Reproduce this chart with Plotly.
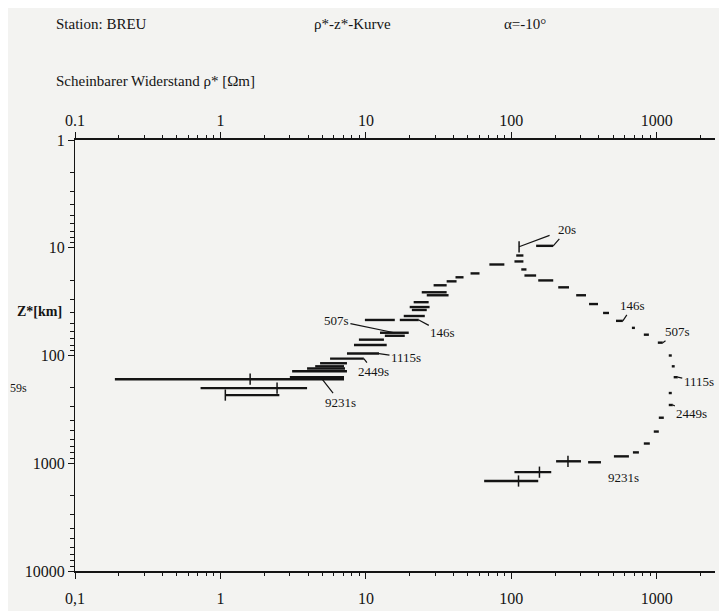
import math
import plotly.graph_objects as go

# ---------------- data ----------------
# right branch: apparent resistivity range [Ohm m] and depth z* [km]
right_lo = [148, 108, 105, 117, 123, 153, 210, 279, 342, 427, 524, 674, 814, 1016,
            1208, 1267, 1306, 1208, 1208, 1032, 953, 814, 685, 507, 337, 203, 105, 65]
right_hi = [194, 121, 121, 127, 148, 194, 249, 326, 394, 469, 584, 707, 882, 1099,
            1267, 1327, 1393, 1267, 1288, 1117, 1032, 895, 753, 643, 413, 301, 188, 153]
right_z = [9.6, 11.8, 13.4, 15.9, 18.1, 20.1, 23.3, 27.6, 33.3, 40.3, 47.7, 55.4, 64.1, 76.0,
           100, 126, 159, 223, 288, 378, 508, 656, 793, 863, 979, 959, 1210, 1462]

# left branch
left_lo = [70.6, 52.4, 41.3, 35.9, 29.2, 24.2, 26.2, 21.3, 20.0, 20.7, 18.2, 17.1, 9.84,
           12.5, 13.5, 8.95, 8.28, 7.41, 5.67, 4.84, 4.48, 3.94, 3.11, 3.0, 0.188, 0.73, 1.08]
left_hi = [89.5, 60.4, 46.9, 42.0, 35.9, 35.9, 37.0, 27.0, 27.4, 26.2, 25.4, 23.1, 15.8,
           19.7, 18.5, 13.3, 13.9, 12.3, 9.68, 7.41, 7.07, 7.18, 7.41, 7.07, 7.07, 3.94, 2.54]
left_z = [14.3, 17.3, 18.8, 20.5, 22.3, 25.9, 27.6, 32.0, 35.5, 37.8, 43.0, 46.8, 46.8,
          61.5, 65.6, 71.3, 80.0, 95.9, 107, 118, 126, 132, 140, 159, 166, 201, 233]

# marked values (vertical ticks on the bars)
mark_rho = [113, 1.6, 2.45, 1.08, 245, 156, 112]
mark_z = [9.8, 166, 201, 233, 959, 1210, 1462]

# period labels: text, rho, z, offset x, offset y
period_labels = [
    ("20s", 194, 9.6, 14, -16),
    ("", 113, 9.8, 32, -12),
    ("146s", 584, 47.7, 10, -15),
    ("507s", 1099, 76.0, 15, -11),
    ("1115s", 1393, 159, 21, 4),
    ("2449s", 1288, 288, 19, 8),
    ("9231s", 413, 979, 23, 15),
    ("146s", 23.1, 46.8, 24, 13),
    ("507s", 15.7, 61.5, -58, -12),
    ("1115s", 12.3, 95.9, 27, 4),
    ("2449s", 9.68, 107, 10, 13),
    ("9231s", 5.0, 166, 18, 23),
]

x_ticks = [0.1, 1, 10, 100, 1000]
x_text_bottom = ["0,1", "1", "10", "100", "1000"]
x_text_top = ["0.1", "1", "10", "100", "1000"]
y_ticks = [1, 10, 100, 1000, 10000]
y_text = ["1", "10", "100", "1000", "10000"]

INK = "#141414"
BG = "#f3f3f1"
SERIF = "Liberation Serif"


def segments(lo, hi, z):
    xs, ys = [], []
    for a, b, c in zip(lo, hi, z):
        xs += [a, b, None]
        ys += [c, c, None]
    return xs, ys


fig = go.Figure()
for lo, hi, z in ((right_lo, right_hi, right_z), (left_lo, left_hi, left_z)):
    xs, ys = segments(lo, hi, z)
    fig.add_trace(go.Scatter(x=xs, y=ys, mode="lines", line=dict(color=INK, width=2.4),
                             hoverinfo="skip", showlegend=False))

fig.add_trace(go.Scatter(x=mark_rho, y=mark_z, mode="markers",
                         marker=dict(symbol="line-ns", size=8, line=dict(color=INK, width=1.5)),
                         hoverinfo="skip", showlegend=False))
# invisible trace so the top axis is drawn
fig.add_trace(go.Scatter(x=[1], y=[1], xaxis="x2", mode="markers",
                         marker=dict(opacity=0), hoverinfo="skip", showlegend=False))

minor_x = [m * 10 ** e for e in range(-1, 4) for m in range(2, 10) if m * 10 ** e < 2500]
minor_y = [m * 10 ** e for e in range(0, 4) for m in range(2, 10)]

common_x = dict(type="log", range=[-1, 3.4], tickvals=x_ticks, ticks="outside",
                ticklen=6, tickwidth=1.4, tickcolor=INK, showline=True, linewidth=2,
                linecolor=INK, showgrid=False, zeroline=False,
                minor=dict(tickvals=minor_x, ticks="outside", ticklen=3, tickwidth=1,
                           tickcolor=INK, showgrid=False),
                tickfont=dict(family=SERIF, size=16, color=INK))

fig.update_layout(
    width=727, height=611,
    margin=dict(l=67, r=20, t=132, b=43),
    paper_bgcolor=BG, plot_bgcolor=BG,
    xaxis=dict(**common_x, ticktext=x_text_bottom, ticklabelstandoff=6),
    xaxis2=dict(**common_x, ticktext=x_text_top, overlaying="x", side="top", anchor="y"),
    yaxis=dict(type="log", range=[4, 0], tickvals=y_ticks, ticktext=y_text,
               ticks="outside", ticklen=6, tickwidth=1.4, tickcolor=INK,
               showline=True, linewidth=1.2, linecolor=INK, showgrid=False, zeroline=False,
               minor=dict(tickvals=minor_y, ticks="outside", ticklen=4, tickwidth=1,
                          tickcolor=INK, showgrid=False),
               tickfont=dict(family=SERIF, size=16, color=INK)),
)

annots = []
for text, rho, z, ax, ay in period_labels:
    annots.append(dict(x=math.log10(rho), y=math.log10(z), xref="x", yref="y",
                       text=text, showarrow=True, arrowhead=0, arrowwidth=1.2,
                       arrowcolor=INK, ax=ax, ay=ay, standoff=0,
                       font=dict(family=SERIF, size=13, color=INK)))

def ptxt(text, x, y, size=15, bold=False):
    return dict(x=x, y=y, xref="paper", yref="paper", text=f"<b>{text}</b>" if bold else text,
                showarrow=False, xanchor="left", yanchor="middle",
                font=dict(family=SERIF, size=size, color=INK))

annots += [
    ptxt("Station: BREU", -0.033, 1.268),
    ptxt("ρ*-z*-Kurve", 0.37, 1.268),
    ptxt("α=-10°", 0.667, 1.268),
    ptxt("Scheinbarer Widerstand ρ* [Ωm]", -0.033, 1.138),
    ptxt("Z*[km]", -0.094, 0.603, size=14, bold=True),
    ptxt("59s", -0.105, 0.424, size=12),
]
fig.update_layout(annotations=annots)

fig.write_html("out.html")
